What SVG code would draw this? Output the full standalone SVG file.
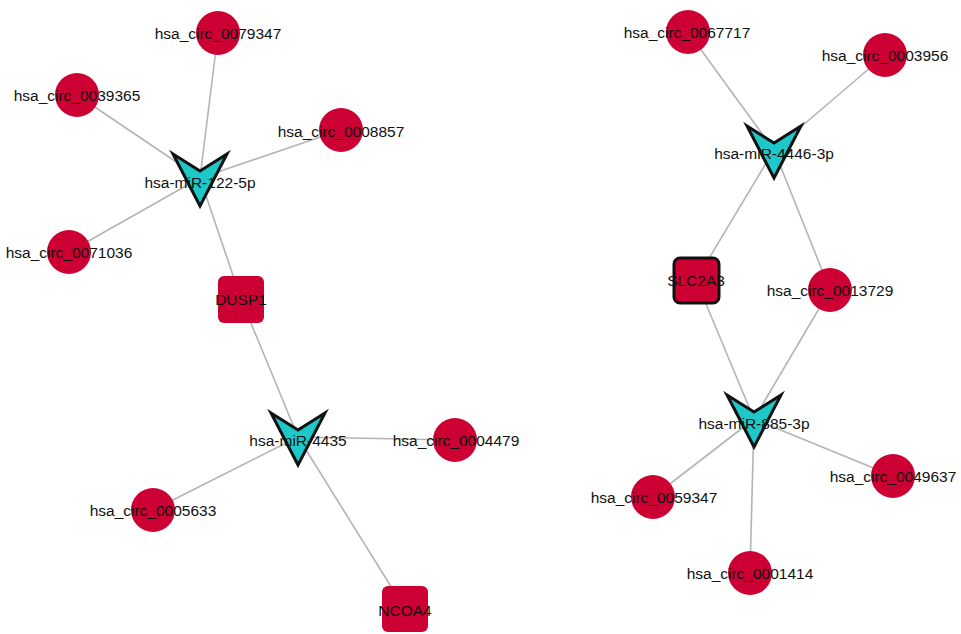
<svg xmlns="http://www.w3.org/2000/svg" xmlns:xlink="http://www.w3.org/1999/xlink" width="961" height="634" viewBox="0 0 961 634">
<style>
.e{stroke:#b4b4b4;stroke-width:1.6;fill:none}
.c{fill:#cc0033}
.g{fill:#cc0033}
.gb{fill:#cc0033;stroke:#111;stroke-width:3}
.m{fill:#1ec8c8;stroke:#111;stroke-width:3;stroke-linejoin:miter}
text{font-family:"Liberation Sans",Arial,sans-serif;font-size:15.5px;fill:#111;text-anchor:middle;dominant-baseline:central}
</style>
<defs>
<path id="v" d="M-27,-24 L0,-7 L27,-24 L0,28 Z"/>
</defs>
<rect width="961" height="634" fill="#fff"/>
<g id="edges">
<line class="e" x1="218" y1="33" x2="200" y2="178"/>
<line class="e" x1="77" y1="95" x2="200" y2="178"/>
<line class="e" x1="341" y1="130" x2="200" y2="178"/>
<line class="e" x1="69" y1="252" x2="200" y2="178"/>
<line class="e" x1="200" y1="178" x2="241" y2="299"/>
<line class="e" x1="241" y1="299" x2="298" y2="437"/>
<line class="e" x1="298" y1="437" x2="455" y2="440"/>
<line class="e" x1="298" y1="437" x2="153" y2="510"/>
<line class="e" x1="298" y1="437" x2="405" y2="609"/>
<line class="e" x1="688" y1="32" x2="774" y2="150"/>
<line class="e" x1="885" y1="55" x2="774" y2="150"/>
<line class="e" x1="774" y1="150" x2="696" y2="280"/>
<line class="e" x1="774" y1="150" x2="830" y2="290"/>
<line class="e" x1="696" y1="280" x2="754" y2="419"/>
<line class="e" x1="830" y1="290" x2="754" y2="419"/>
<line class="e" x1="754" y1="419" x2="653" y2="497"/>
<line class="e" x1="754" y1="419" x2="893" y2="476"/>
<line class="e" x1="754" y1="419" x2="750" y2="573"/>
</g>
<g id="n_0079347"><circle class="c" cx="218" cy="33" r="22"/><text x="218" y="33">hsa_circ_0079347</text></g>
<g id="n_0039365"><circle class="c" cx="77" cy="95" r="22"/><text x="77" y="95">hsa_circ_0039365</text></g>
<g id="n_0008857"><circle class="c" cx="341" cy="130" r="22"/><text x="341" y="131">hsa_circ_0008857</text></g>
<g id="n_0071036"><circle class="c" cx="69" cy="252" r="22"/><text x="69" y="252">hsa_circ_0071036</text></g>
<g id="n_mir122"><use xlink:href="#v" class="m" transform="translate(200,178)"/><text x="200" y="182">hsa-miR-122-5p</text></g>
<g id="n_dusp1"><rect class="g" x="218" y="276" width="46" height="47" rx="6"/><text x="241" y="299">DUSP1</text></g>
<g id="n_mir4435"><use xlink:href="#v" class="m" transform="translate(298,437)"/><text x="298" y="440">hsa-miR-4435</text></g>
<g id="n_0004479"><circle class="c" cx="455" cy="440" r="22"/><text x="456" y="440">hsa_circ_0004479</text></g>
<g id="n_0005633"><circle class="c" cx="153" cy="510" r="22"/><text x="153" y="510">hsa_circ_0005633</text></g>
<g id="n_ncoa4"><rect class="g" x="382" y="586" width="46" height="46" rx="6"/><text x="405" y="610">NCOA4</text></g>
<g id="n_0067717"><circle class="c" cx="688" cy="32" r="22"/><text x="687" y="32">hsa_circ_0067717</text></g>
<g id="n_0003956"><circle class="c" cx="885" cy="55" r="22"/><text x="885" y="55">hsa_circ_0003956</text></g>
<g id="n_mir4446"><use xlink:href="#v" class="m" transform="translate(774,150)"/><text x="774" y="153">hsa-miR-4446-3p</text></g>
<g id="n_slc2a3"><rect class="gb" x="674" y="258" width="45" height="45" rx="6"/><text x="696" y="280">SLC2A3</text></g>
<g id="n_0013729"><circle class="c" cx="830" cy="290" r="22"/><text x="830" y="290">hsa_circ_0013729</text></g>
<g id="n_mir885"><use xlink:href="#v" class="m" transform="translate(754,419)"/><text x="754" y="423">hsa-miR-885-3p</text></g>
<g id="n_0059347"><circle class="c" cx="653" cy="497" r="22"/><text x="654" y="497">hsa_circ_0059347</text></g>
<g id="n_0049637"><circle class="c" cx="893" cy="476" r="22"/><text x="893" y="476">hsa_circ_0049637</text></g>
<g id="n_0001414"><circle class="c" cx="750" cy="573" r="22"/><text x="750" y="573">hsa_circ_0001414</text></g>
</svg>
